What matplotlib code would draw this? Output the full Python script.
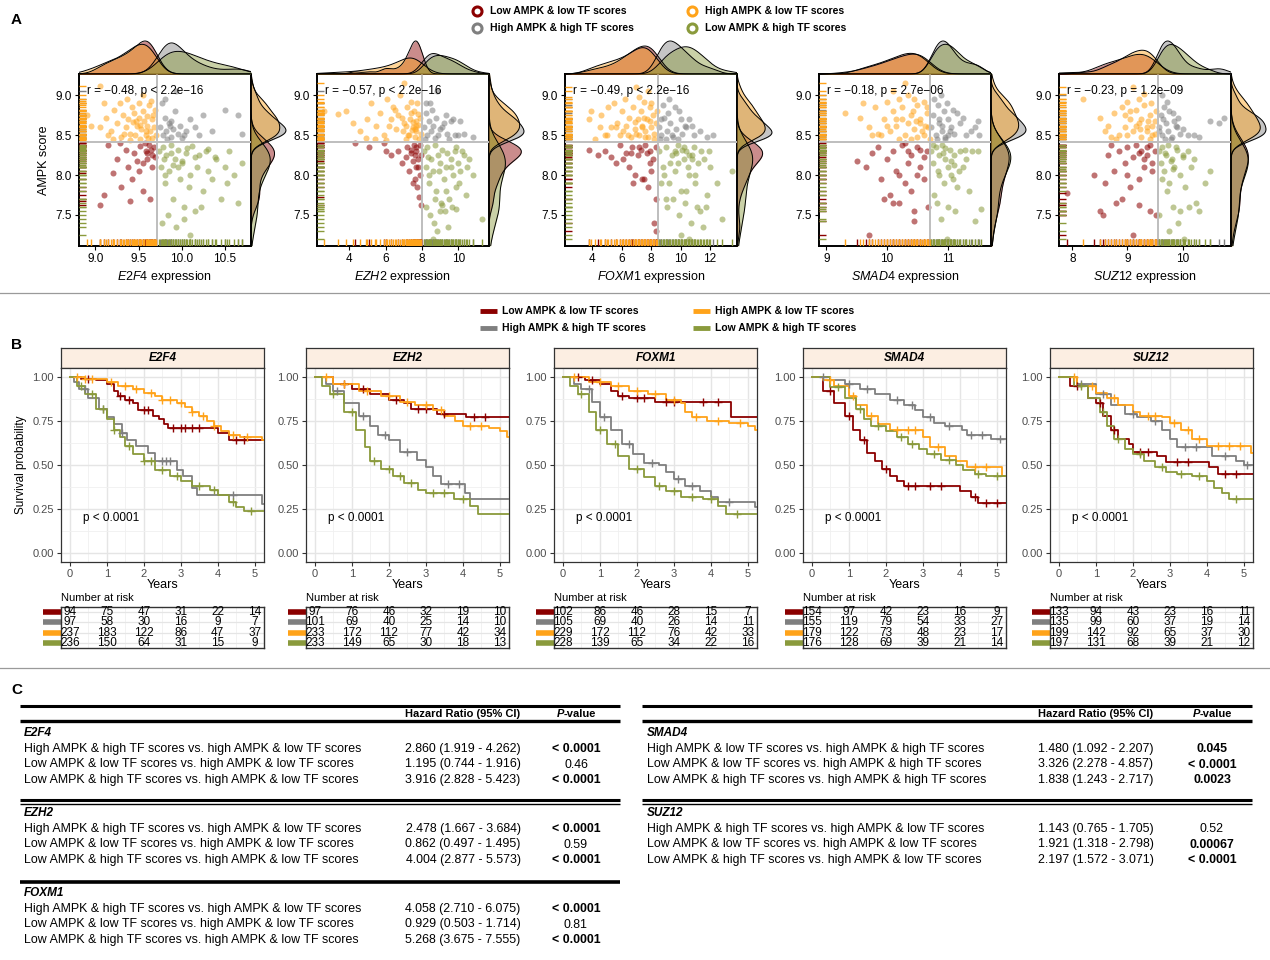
import numpy as np
import matplotlib
matplotlib.use("Agg")
import matplotlib.pyplot as plt
from matplotlib.transforms import blended_transform_factory

plt.rcParams['font.family'] = ['Liberation Sans', 'DejaVu Sans']
plt.rcParams['mathtext.fontset'] = 'custom'
plt.rcParams['mathtext.rm'] = 'Liberation Sans'
plt.rcParams['mathtext.it'] = 'Liberation Sans:italic'
plt.rcParams['mathtext.bf'] = 'Liberation Sans:bold'

# ---------------- data ----------------
genes = ['E2F4', 'EZH2', 'FOXM1', 'SMAD4', 'SUZ12']
groups = ['LL', 'HH', 'HL', 'LH']
group_labels = {'LL': 'Low AMPK & low TF scores', 'HH': 'High AMPK & high TF scores',
                'HL': 'High AMPK & low TF scores', 'LH': 'Low AMPK & high TF scores'}
colors = {'LL': '#8B0000', 'HH': '#7F7F7F', 'HL': '#FFA31A', 'LH': '#8A9A3C'}

ampk_cut = 8.42
tf_cut = [9.716, 8.03, 8.45, 10.71, 9.547]
corr_text = ['r = \u22120.48, p < 2.2e\u221216', 'r = \u22120.57, p < 2.2e\u221216',
             'r = \u22120.49, p < 2.2e\u221216', 'r = \u22120.18, p = 2.7e\u221206',
             'r = \u22120.23, p = 1.2e\u221209']
sc_xlims = [(8.81, 10.80), (2.23, 11.69), (2.15, 13.83), (8.88, 11.71), (7.76, 10.875)]
sc_ylim = (7.11, 9.267)
sc_xticks = [[9.0, 9.5, 10.0, 10.5], [4, 6, 8, 10], [4, 6, 8, 10, 12], [9, 10, 11], [8, 9, 10]]
sc_xticklabels = [['9.0', '9.5', '10.0', '10.5'], ['4', '6', '8', '10'], ['4', '6', '8', '10', '12'],
                  ['9', '10', '11'], ['8', '9', '10']]
sc_yticks = [7.5, 8.0, 8.5, 9.0]

# scatter points (TF expression, AMPK score) per gene and group
sc_e2f4_ll = [(9.68,8.35),(9.65,8.25),(9.62,8.38),(9.6,8.2),(9.58,8.3),(9.55,8.15),(9.52,8.36),(9.5,8.05),(9.45,8.28),(9.42,7.95),(9.38,8.1),(9.35,8.32),(9.3,7.85),(9.25,8.2),(9.2,8.02),(9.15,8.38),(9.1,7.75),(9.05,7.62),(9.66,8.1),(9.57,8.4),(9.48,8.18),(9.63,7.7),(9.4,7.68),(9.28,8.4),(9.55,7.8),(9.6,8.28),(9.69,8.22),(9.64,8.32)]
sc_e2f4_hh = [(9.75,8.6),(9.78,8.5),(9.8,8.72),(9.82,8.55),(9.85,8.65),(9.87,8.48),(9.9,8.58),(9.92,8.8),(9.95,8.52),(9.98,8.62),(10.0,8.46),(10.05,8.55),(10.1,8.7),(9.77,8.9),(9.83,8.45),(9.88,8.68),(9.93,9.05),(10.02,8.5),(10.15,8.6),(10.25,8.75),(10.35,8.55),(10.5,8.82),(10.65,8.75),(9.8,8.95),(10.2,8.5),(10.7,8.52),(9.86,8.62)]
sc_e2f4_hl = [(9.05,8.6),(9.12,8.72),(9.18,8.55),(9.22,8.82),(9.25,8.65),(9.28,8.9),(9.3,8.48),(9.32,8.75),(9.35,8.6),(9.36,8.95),(9.38,8.7),(9.4,8.52),(9.42,8.85),(9.43,8.66),(9.45,8.78),(9.46,8.5),(9.48,8.62),(9.5,8.9),(9.5,8.72),(9.52,8.45),(9.53,8.58),(9.55,8.8),(9.56,8.68),(9.58,8.5),(9.6,8.74),(9.6,8.62),(9.62,8.88),(9.63,8.55),(9.65,8.47),(9.66,8.7),(9.68,8.6),(9.69,8.82),(9.7,8.5),(9.4,8.44),(9.55,9.0),(9.64,8.93),(9.2,8.45),(9.1,8.9),(8.95,8.62),(9.58,8.55),(9.47,8.68),(9.33,8.52),(9.67,8.75),(9.52,8.63),(9.61,8.46),(9.05,9.12),(8.9,8.75),(9.15,8.5)]
sc_e2f4_lh = [(9.74,8.3),(9.76,8.1),(9.78,8.35),(9.8,7.9),(9.82,8.25),(9.85,8.05),(9.88,8.38),(9.9,7.7),(9.92,8.2),(9.95,8.32),(9.98,7.95),(10.0,8.15),(10.03,7.6),(10.05,8.28),(10.08,7.85),(10.1,8.0),(10.12,8.36),(10.15,7.55),(10.18,8.1),(10.2,8.25),(10.25,7.8),(10.28,8.3),(10.3,8.05),(10.35,7.95),(10.4,8.2),(10.45,7.7),(10.5,8.1),(10.55,8.3),(10.6,8.0),(10.65,7.65),(10.7,8.15),(9.77,7.4),(9.84,7.5),(9.93,7.35),(10.02,7.45),(10.1,7.25),(10.22,7.6),(9.79,8.2),(9.87,8.28),(9.96,8.1),(10.06,8.34),(10.38,8.22),(10.52,7.9),(9.81,8.0),(10.0,8.18),(10.3,8.33),(9.9,8.12),(10.15,8.22)]

sc_ezh2_ll = [(4.3,8.4),(5.1,8.35),(5.9,8.4),(6.3,8.25),(6.7,8.3),(6.9,8.15),(7.1,8.22),(7.2,8.35),(7.3,8.05),(7.4,8.28),(7.5,8.18),(7.55,8.38),(7.6,7.95),(7.65,8.1),(7.7,8.3),(7.75,7.85),(7.8,8.2),(7.85,7.72),(7.9,8.0),(7.95,7.62),(7.7,8.35),(7.8,8.1),(7.5,7.9),(7.4,8.32),(7.9,8.38),(6.0,8.3),(7.95,8.25),(7.6,8.25)]
sc_ezh2_hh = [(8.1,8.6),(8.2,8.78),(8.3,8.5),(8.4,8.68),(8.5,8.55),(8.6,8.62),(8.7,8.47),(8.8,8.72),(8.9,8.5),(9.0,8.58),(9.2,8.65),(9.4,8.52),(9.6,8.68),(9.8,8.5),(10.0,8.5),(10.3,8.52),(10.8,8.48),(8.25,8.9),(8.55,8.82),(8.85,9.05),(9.1,8.6),(9.5,8.45),(8.15,8.45),(8.45,8.9),(9.3,8.75),(9.7,8.7),(10.1,8.68)]
sc_ezh2_hl = [(2.6,8.8),(3.4,8.77),(3.8,8.8),(4.2,8.65),(4.6,8.55),(5.0,8.7),(5.2,8.9),(5.5,8.62),(5.7,8.78),(5.9,8.5),(6.1,8.95),(6.3,8.7),(6.5,8.82),(6.6,8.58),(6.8,9.0),(6.9,8.72),(7.0,9.15),(7.1,8.62),(7.2,8.85),(7.3,8.5),(7.35,8.7),(7.4,8.92),(7.5,8.6),(7.55,8.8),(7.6,8.48),(7.65,8.68),(7.7,8.55),(7.75,8.9),(7.8,8.63),(7.85,8.45),(7.9,8.72),(7.95,8.52),(6.2,8.62),(6.7,8.75),(7.15,8.45),(7.45,8.56),(5.4,8.45),(6.0,8.44),(4.9,8.47),(7.0,8.65),(7.6,8.58),(7.25,8.5),(6.4,8.85),(7.8,8.77),(7.5,8.66),(6.95,8.55),(7.7,8.62),(7.4,8.78)]
sc_ezh2_lh = [(8.1,8.3),(8.2,8.1),(8.3,8.35),(8.4,7.9),(8.5,8.2),(8.6,8.05),(8.7,8.38),(8.8,7.8),(8.9,8.25),(9.0,8.15),(9.1,8.32),(9.2,7.95),(9.3,8.1),(9.4,8.28),(9.5,7.7),(9.6,8.2),(9.7,8.0),(9.8,8.3),(9.9,7.85),(10.0,8.15),(10.1,8.05),(10.2,8.3),(10.4,7.75),(10.6,8.2),(10.8,8.0),(11.3,7.45),(8.25,7.6),(8.45,7.5),(8.65,7.4),(8.85,7.3),(9.05,7.65),(9.25,7.55),(9.45,7.35),(9.65,7.6),(9.85,8.35),(10.05,7.9),(8.4,8.0),(8.7,7.7),(9.0,7.55),(9.3,7.8),(9.6,8.1),(10.3,8.25),(8.6,7.2),(9.1,7.62),(9.9,7.58),(10.5,8.1),(8.35,8.22),(8.95,8.05)]

sc_foxm1_ll = [(3.8,8.32),(4.4,8.25),(4.9,8.3),(5.3,8.22),(5.6,8.15),(5.9,8.38),(6.1,8.2),(6.3,8.28),(6.5,8.1),(6.7,8.35),(6.9,8.0),(7.1,8.25),(7.3,8.32),(7.5,7.95),(7.7,8.28),(7.9,8.15),(8.1,8.2),(8.3,8.35),(6.8,7.9),(7.4,7.95),(7.8,7.85),(8.2,7.4),(7.6,8.38),(8.0,8.05),(8.3,7.7),(8.35,7.3),(7.2,8.35),(6.6,8.28),(7.95,8.3)]
sc_foxm1_hh = [(8.5,8.6),(8.7,8.5),(8.9,8.72),(9.1,8.55),(9.3,8.65),(9.5,8.48),(9.7,8.58),(9.9,8.8),(10.1,8.52),(10.3,8.62),(10.6,8.7),(10.9,8.5),(11.3,8.55),(11.8,8.48),(12.2,8.5),(8.8,8.88),(9.2,8.95),(9.6,8.85),(10.0,8.7),(10.4,8.6),(8.6,8.45),(9.0,8.45),(9.4,8.5),(10.8,8.62),(9.8,8.45),(9.15,8.78),(8.65,8.7)]
sc_foxm1_hl = [(3.8,8.7),(4.2,8.45),(4.6,8.75),(4.9,8.5),(5.1,8.85),(5.3,8.6),(5.5,8.9),(5.7,8.65),(5.9,8.5),(6.0,8.8),(6.2,8.95),(6.3,8.62),(6.5,8.72),(6.6,8.48),(6.8,8.85),(6.9,8.58),(7.0,9.1),(7.1,8.7),(7.2,8.5),(7.3,8.8),(7.4,8.62),(7.5,8.92),(7.6,8.55),(7.7,8.7),(7.8,8.48),(7.9,8.85),(8.0,8.6),(8.1,8.75),(8.2,8.52),(8.3,8.65),(8.4,8.8),(6.4,8.5),(7.2,8.98),(7.8,9.05),(5.6,8.6),(6.9,8.66),(7.5,8.72),(8.2,8.45),(4.5,8.6),(6.1,8.55),(7.0,8.52),(7.6,8.48),(8.0,8.9),(3.9,8.8),(5.0,8.5),(7.35,8.6),(7.95,8.68)]
sc_foxm1_lh = [(8.55,8.3),(8.8,8.1),(9.0,8.35),(9.2,7.9),(9.4,8.25),(9.6,8.05),(9.8,8.38),(10.0,7.8),(10.2,8.2),(10.4,8.3),(10.6,8.0),(10.8,8.25),(11.0,7.9),(11.2,8.15),(11.4,8.3),(11.6,8.2),(11.8,7.75),(12.0,8.1),(12.5,7.9),(13.5,8.05),(9.1,7.6),(9.5,7.7),(9.9,7.5),(10.3,7.65),(10.7,7.4),(11.1,7.6),(11.5,7.35),(8.7,7.9),(9.3,8.15),(9.7,8.28),(10.1,8.32),(10.5,8.1),(10.9,8.35),(11.3,7.55),(9.0,7.7),(10.0,7.25),(10.6,7.2),(11.7,7.6),(12.8,7.45),(8.9,8.0),(10.2,8.35),(10.8,8.2),(9.6,8.3),(11.0,8.0),(10.4,7.8),(11.9,8.3),(9.85,8.15),(10.55,8.25)]

sc_smad4_ll = [(9.5,8.18),(9.65,8.1),(9.75,8.28),(9.85,8.35),(9.9,7.95),(10.0,8.2),(10.05,7.75),(10.1,8.3),(10.15,8.05),(10.2,7.65),(10.25,8.38),(10.3,7.9),(10.35,8.15),(10.4,8.25),(10.45,7.55),(10.5,8.35),(10.55,8.1),(10.6,7.95),(10.65,8.3),(10.68,7.6),(10.3,8.4),(10.5,8.0),(10.1,7.65),(10.4,7.8),(10.6,8.22),(9.95,7.7),(10.2,8.0),(10.45,7.42),(10.55,8.32),(10.35,8.3),(9.7,7.25)]
sc_smad4_hh = [(10.73,8.6),(10.76,8.75),(10.8,8.5),(10.83,8.88),(10.86,8.65),(10.9,8.55),(10.93,8.8),(10.96,8.48),(11.0,8.7),(11.05,8.6),(11.1,8.52),(11.15,8.78),(11.2,8.65),(11.3,8.5),(11.45,8.6),(11.5,8.68),(10.78,8.95),(10.88,9.0),(10.98,8.9),(11.08,8.82),(10.82,8.45),(10.95,8.45),(11.03,8.55),(11.25,8.72),(11.38,8.55),(11.52,8.5),(10.85,8.7),(10.91,8.62),(11.0,8.5)]
sc_smad4_hl = [(9.3,8.78),(9.55,8.72),(9.7,8.6),(9.8,8.85),(9.9,8.5),(9.95,8.7),(10.0,8.92),(10.05,8.55),(10.1,8.8),(10.15,8.62),(10.2,8.95),(10.25,8.7),(10.3,8.5),(10.35,9.0),(10.4,8.75),(10.45,8.58),(10.5,8.88),(10.55,8.65),(10.6,8.5),(10.65,8.78),(10.68,8.6),(10.1,9.05),(10.3,9.15),(10.45,8.95),(10.6,8.92),(9.85,8.52),(10.2,8.45),(10.4,8.45),(10.55,8.7),(10.65,8.85),(10.0,8.62),(10.25,8.85),(10.5,8.48),(9.6,8.9),(10.35,8.65),(10.15,8.7),(10.58,8.55),(10.7,8.45),(10.42,8.8),(9.75,8.5),(10.48,8.68),(10.62,8.62)]
sc_smad4_lh = [(10.73,8.3),(10.76,8.15),(10.8,8.35),(10.83,8.05),(10.86,8.25),(10.9,8.38),(10.93,7.9),(10.96,8.2),(11.0,8.1),(11.03,8.32),(11.06,8.0),(11.1,8.25),(11.15,7.85),(11.2,8.3),(11.25,8.1),(11.3,8.2),(11.4,8.3),(11.5,8.3),(11.55,7.58),(10.78,7.75),(10.88,7.45),(10.98,7.2),(11.08,7.95),(10.85,8.0),(11.0,7.6),(11.12,7.55),(11.35,7.8),(11.45,7.42),(10.75,8.38),(10.92,8.28),(11.05,8.18),(11.18,8.05),(10.82,7.65),(11.28,8.32),(10.95,8.34),(11.1,8.12)]

sc_suz12_ll = [(7.9,7.78),(8.4,8.0),(8.6,7.9),(8.65,8.25),(8.75,8.05),(8.85,8.3),(8.9,7.7),(8.95,8.15),(9.0,8.35),(9.05,7.85),(9.1,8.22),(9.15,8.38),(9.2,7.95),(9.25,8.3),(9.3,8.1),(9.35,8.25),(9.4,8.38),(9.45,8.05),(9.5,8.3),(9.52,7.5),(8.5,7.55),(8.8,7.65),(9.0,8.0),(9.2,7.62),(9.4,7.55),(8.7,8.38),(9.1,7.25),(9.3,8.2),(9.45,8.15),(8.55,7.5),(9.35,8.35),(9.2,8.28)]
sc_suz12_hh = [(9.57,8.6),(9.6,8.75),(9.63,8.5),(9.66,8.85),(9.7,8.65),(9.73,8.55),(9.76,8.8),(9.8,8.48),(9.85,8.68),(9.9,8.6),(9.95,8.52),(10.0,8.58),(10.1,8.5),(10.3,8.48),(10.5,8.68),(10.65,8.65),(9.62,9.0),(9.72,8.92),(9.82,8.78),(9.92,8.72),(9.68,8.45),(9.78,8.45),(10.2,8.5),(10.75,8.72),(9.58,8.55),(9.87,8.62),(9.65,8.7)]
sc_suz12_hl = [(8.2,8.95),(8.5,8.72),(8.65,8.62),(8.75,8.78),(8.85,8.5),(8.9,8.85),(8.95,8.6),(9.0,8.92),(9.05,8.7),(9.1,8.55),(9.15,8.82),(9.2,8.65),(9.25,8.48),(9.3,8.88),(9.35,8.6),(9.4,8.75),(9.45,8.5),(9.5,8.68),(9.52,8.8),(8.8,8.45),(9.0,8.5),(9.2,8.95),(9.4,8.45),(9.1,9.1),(9.3,9.02),(9.45,8.62),(8.7,8.48),(8.95,8.75),(9.25,8.7),(9.5,8.52),(9.05,8.8),(9.35,8.55),(8.6,8.55),(9.15,8.62),(9.42,8.9),(9.22,8.58),(9.38,8.68)]
sc_suz12_lh = [(9.57,8.3),(9.6,8.15),(9.63,8.35),(9.66,8.05),(9.7,8.25),(9.73,8.38),(9.76,7.9),(9.8,8.2),(9.85,8.1),(9.9,8.32),(9.95,8.0),(10.0,8.25),(10.05,7.85),(10.1,8.3),(10.15,8.1),(10.2,8.2),(10.3,7.55),(10.4,7.9),(10.5,8.05),(9.62,7.95),(9.72,7.8),(9.82,7.6),(9.92,7.4),(10.02,7.2),(9.68,8.28),(9.78,8.18),(9.88,8.35),(10.25,7.65),(9.58,7.5),(9.95,7.55),(10.12,7.6),(9.75,7.3),(10.0,8.22),(9.83,8.08)]

# Kaplan-Meier step points (years, survival) and censoring times
km_e2f4_ll = [(0,1),(0.3,0.99),(0.7,0.98),(1.0,0.96),(1.2,0.92),(1.3,0.89),(1.5,0.87),(1.7,0.85),(1.85,0.81),(2.25,0.78),(2.4,0.76),(2.55,0.73),(2.65,0.71),(4.0,0.68),(4.3,0.64),(5.25,0.64)]
km_e2f4_hh = [(0,1),(0.1,0.97),(0.25,0.93),(0.5,0.88),(0.8,0.82),(1.0,0.77),(1.2,0.73),(1.4,0.68),(1.55,0.64),(1.8,0.61),(2.1,0.57),(2.3,0.52),(2.9,0.47),(3.05,0.44),(3.3,0.37),(3.45,0.33),(5.2,0.28),(5.25,0.28)]
km_e2f4_hl = [(0,1),(0.4,0.99),(1.0,0.97),(1.3,0.95),(1.7,0.93),(2.0,0.91),(2.3,0.89),(2.5,0.87),(2.9,0.85),(3.1,0.83),(3.3,0.80),(3.5,0.78),(3.7,0.75),(3.9,0.72),(4.1,0.69),(4.3,0.67),(4.6,0.66),(5.2,0.64),(5.25,0.64)]
km_e2f4_lh = [(0,1),(0.2,0.95),(0.4,0.90),(0.7,0.82),(1.0,0.76),(1.2,0.70),(1.35,0.66),(1.5,0.61),(1.7,0.56),(2.0,0.52),(2.3,0.47),(2.7,0.44),(3.0,0.41),(3.3,0.38),(3.8,0.36),(4.0,0.33),(4.3,0.29),(4.5,0.26),(4.7,0.24),(5.25,0.24)]
km_ezh2_ll = [(0,1),(0.5,0.96),(1.0,0.93),(1.5,0.90),(2.0,0.87),(2.4,0.85),(2.6,0.815),(3.3,0.79),(4.1,0.77),(5.25,0.77)]
km_ezh2_hh = [(0,1),(0.3,0.96),(0.5,0.92),(0.8,0.85),(1.2,0.78),(1.5,0.72),(1.7,0.67),(2.0,0.64),(2.3,0.575),(2.75,0.53),(3.0,0.49),(3.2,0.44),(3.4,0.395),(4.05,0.34),(4.2,0.305),(5.25,0.305)]
km_ezh2_hl = [(0,1),(0.5,0.96),(1.2,0.92),(1.8,0.89),(2.3,0.86),(2.7,0.84),(3.2,0.81),(3.5,0.78),(3.8,0.75),(4.0,0.72),(4.7,0.71),(5.0,0.69),(5.2,0.66),(5.25,0.66)]
km_ezh2_lh = [(0,1),(0.2,0.95),(0.4,0.90),(0.8,0.80),(1.1,0.70),(1.35,0.60),(1.5,0.52),(1.8,0.48),(2.1,0.44),(2.4,0.40),(2.8,0.36),(3.0,0.34),(3.75,0.31),(4.2,0.27),(4.4,0.225),(5.25,0.225)]
km_foxm1_ll = [(0,1),(0.6,0.98),(1.0,0.96),(1.3,0.92),(1.5,0.89),(1.8,0.88),(2.5,0.855),(4.55,0.775),(5.25,0.775)]
km_foxm1_hh = [(0,1),(0.3,0.96),(0.5,0.93),(0.8,0.86),(1.0,0.77),(1.3,0.70),(1.6,0.62),(1.9,0.56),(2.2,0.51),(2.6,0.50),(2.8,0.46),(3.0,0.42),(3.3,0.38),(3.7,0.35),(4.0,0.32),(4.2,0.29),(5.2,0.26),(5.25,0.26)]
km_foxm1_hl = [(0,1),(0.7,0.97),(1.3,0.95),(1.8,0.92),(2.3,0.90),(2.8,0.87),(3.2,0.85),(3.3,0.80),(3.5,0.77),(3.9,0.75),(4.5,0.74),(5.0,0.72),(5.2,0.70),(5.25,0.70)]
km_foxm1_lh = [(0,1),(0.2,0.95),(0.4,0.90),(0.7,0.80),(0.9,0.70),(1.2,0.62),(1.5,0.55),(1.8,0.48),(2.2,0.43),(2.5,0.38),(2.8,0.35),(3.2,0.32),(3.8,0.31),(4.2,0.27),(4.4,0.225),(5.25,0.225)]
km_smad4_ll = [(0,1),(0.3,0.92),(0.6,0.85),(0.9,0.78),(1.1,0.70),(1.3,0.64),(1.5,0.57),(1.7,0.52),(1.9,0.48),(2.1,0.44),(2.3,0.41),(2.5,0.38),(4.0,0.35),(4.3,0.32),(4.5,0.285),(5.25,0.285)]
km_smad4_hh = [(0,1),(0.5,0.98),(0.9,0.96),(1.3,0.93),(1.7,0.90),(2.1,0.87),(2.5,0.84),(2.8,0.81),(3.0,0.77),(3.3,0.74),(3.6,0.72),(4.05,0.70),(4.2,0.67),(4.85,0.645),(5.25,0.645)]
km_smad4_hl = [(0,1),(0.3,0.98),(0.6,0.95),(1.0,0.89),(1.2,0.84),(1.5,0.78),(1.8,0.73),(2.1,0.70),(3.0,0.66),(3.2,0.60),(3.6,0.55),(3.9,0.52),(4.2,0.49),(5.15,0.44),(5.25,0.44)]
km_smad4_lh = [(0,1),(0.5,0.94),(0.9,0.88),(1.2,0.82),(1.4,0.76),(1.6,0.72),(2.0,0.69),(2.3,0.66),(2.6,0.62),(2.9,0.59),(3.1,0.56),(3.5,0.53),(3.9,0.50),(4.1,0.47),(4.4,0.45),(4.7,0.44),(5.25,0.44)]
km_suz12_ll = [(0,1),(0.3,0.95),(0.8,0.88),(1.0,0.85),(1.2,0.78),(1.4,0.70),(1.6,0.65),(1.9,0.62),(2.0,0.575),(2.65,0.55),(2.9,0.515),(4.05,0.49),(4.3,0.45),(5.25,0.45)]
km_suz12_hh = [(0,1),(0.5,0.96),(1.0,0.90),(1.4,0.84),(1.8,0.79),(2.1,0.77),(2.5,0.75),(2.8,0.70),(3.0,0.65),(3.2,0.60),(4.15,0.55),(4.8,0.52),(5.0,0.50),(5.25,0.50)]
km_suz12_hl = [(0,1),(0.5,0.95),(1.0,0.91),(1.3,0.88),(1.6,0.84),(2.0,0.80),(2.2,0.78),(2.8,0.77),(3.0,0.74),(3.3,0.70),(3.6,0.65),(4.0,0.61),(5.2,0.57),(5.25,0.57)]
km_suz12_lh = [(0,1),(0.4,0.95),(0.8,0.88),(1.1,0.80),(1.3,0.72),(1.5,0.65),(1.8,0.59),(2.0,0.56),(2.3,0.52),(2.6,0.49),(2.9,0.46),(3.2,0.45),(3.6,0.44),(4.0,0.41),(4.2,0.37),(4.4,0.34),(4.6,0.31),(5.25,0.31)]

cens_e2f4_ll = [0.5,1.35,1.6,2.0,2.1,2.8,3.0,3.1,3.3,3.5,4.5,4.7]
cens_e2f4_hh = [0.4,0.9,1.4,2.5,2.6,2.7,4.4]
cens_e2f4_hl = [0.2,0.4,0.6,1.1,1.5,1.8,2.2,2.5,2.7,3.0,3.3,3.6,3.9,4.4,4.8]
cens_e2f4_lh = [0.3,0.6,0.9,1.2,1.6,2.0,2.2,2.5,2.9,3.5,3.9,4.4,4.9]
cens_ezh2_ll = [0.8,1.3,2.2,2.8,3.0,3.5,4.3,4.6]
cens_ezh2_hh = [0.6,1.3,1.9,2.5,3.6,3.9]
cens_ezh2_hl = [0.3,0.8,1.4,2.0,2.5,3.0,3.4,4.2,4.5]
cens_ezh2_lh = [0.5,1.0,1.6,2.0,2.3,2.6,3.2,3.5,4.0]
cens_foxm1_ll = [0.4,0.8,1.6,2.0,2.2,2.8,3.0,3.8,4.2]
cens_foxm1_hh = [0.7,1.1,1.8,2.4,3.1,3.5,4.5]
cens_foxm1_hl = [0.3,1.0,1.5,2.0,2.5,3.0,3.6,4.2,4.8]
cens_foxm1_lh = [0.5,1.0,1.4,2.0,2.6,3.0,3.5,4.0,4.7]
cens_smad4_ll = [0.5,1.0,1.4,2.0,2.6,2.8,3.2,3.5,4.4,4.7,5.0]
cens_smad4_hh = [0.3,1.0,1.5,2.3,2.7,3.2,3.7,4.3,4.6,5.1]
cens_smad4_hl = [0.5,1.1,1.6,2.3,2.6,2.8,3.4,4.4,4.7]
cens_smad4_lh = [0.7,1.3,1.8,2.4,2.7,3.3,3.7,4.5,5.0]
cens_suz12_ll = [0.5,1.1,1.5,2.2,2.4,3.2,3.5,4.5,4.8]
cens_suz12_hh = [0.6,1.2,2.0,2.6,3.4,3.7,4.5,5.1]
cens_suz12_hl = [0.4,0.9,1.5,2.4,2.6,3.1,3.5,3.8,4.3,4.6,4.9]
cens_suz12_lh = [0.6,1.2,1.6,2.2,2.8,3.3,3.8,4.8]

risk_times = [0, 1, 2, 3, 4, 5]
# rows: LL, HH, HL, LH
risk_e2f4 = [[94,75,47,31,22,14],[97,58,30,16,9,7],[237,183,122,86,47,37],[236,150,64,31,15,9]]
risk_ezh2 = [[97,76,46,32,19,10],[101,69,40,25,14,10],[233,172,112,77,42,34],[233,149,65,30,18,13]]
risk_foxm1 = [[102,86,46,28,15,7],[105,69,40,26,14,11],[229,172,112,76,42,33],[228,139,65,34,22,16]]
risk_smad4 = [[154,97,42,23,16,9],[155,119,79,54,33,27],[179,122,73,48,23,17],[176,128,69,39,21,14]]
risk_suz12 = [[133,94,43,23,16,11],[135,99,60,37,19,14],[199,142,92,65,37,30],[197,131,68,39,21,12]]
km_pvalue = ['p < 0.0001'] * 5

# Hazard ratio tables
cmp_vs_hl = ['High AMPK & high TF scores vs. high AMPK & low TF scores',
             'Low AMPK & low TF scores vs. high AMPK & low TF scores',
             'Low AMPK & high TF scores vs. high AMPK & low TF scores']
cmp_vs_hh = ['High AMPK & low TF scores vs. high AMPK & high TF scores',
             'Low AMPK & low TF scores vs. high AMPK & high TF scores',
             'Low AMPK & high TF scores vs. high AMPK & high TF scores']
hr_e2f4 = ['2.860 (1.919 - 4.262)', '1.195 (0.744 - 1.916)', '3.916 (2.828 - 5.423)']
p_e2f4 = ['< 0.0001', '0.46', '< 0.0001']
hr_ezh2 = ['2.478 (1.667 - 3.684)', '0.862 (0.497 - 1.495)', '4.004 (2.877 - 5.573)']
p_ezh2 = ['< 0.0001', '0.59', '< 0.0001']
hr_foxm1 = ['4.058 (2.710 - 6.075)', '0.929 (0.503 - 1.714)', '5.268 (3.675 - 7.555)']
p_foxm1 = ['< 0.0001', '0.81', '< 0.0001']
hr_smad4 = ['1.480 (1.092 - 2.207)', '3.326 (2.278 - 4.857)', '1.838 (1.243 - 2.717)']
p_smad4 = ['0.045', '< 0.0001', '0.0023']
hr_suz12 = ['1.143 (0.765 - 1.705)', '1.921 (1.318 - 2.798)', '2.197 (1.572 - 3.071)']
p_suz12 = ['0.52', '0.00067', '< 0.0001']
p_bold = [[True, False, True], [True, False, True], [True, False, True],
          [True, True, True], [False, True, True]]

scatter = {'E2F4': [sc_e2f4_ll, sc_e2f4_hh, sc_e2f4_hl, sc_e2f4_lh],
           'EZH2': [sc_ezh2_ll, sc_ezh2_hh, sc_ezh2_hl, sc_ezh2_lh],
           'FOXM1': [sc_foxm1_ll, sc_foxm1_hh, sc_foxm1_hl, sc_foxm1_lh],
           'SMAD4': [sc_smad4_ll, sc_smad4_hh, sc_smad4_hl, sc_smad4_lh],
           'SUZ12': [sc_suz12_ll, sc_suz12_hh, sc_suz12_hl, sc_suz12_lh]}
km = {'E2F4': [km_e2f4_ll, km_e2f4_hh, km_e2f4_hl, km_e2f4_lh],
      'EZH2': [km_ezh2_ll, km_ezh2_hh, km_ezh2_hl, km_ezh2_lh],
      'FOXM1': [km_foxm1_ll, km_foxm1_hh, km_foxm1_hl, km_foxm1_lh],
      'SMAD4': [km_smad4_ll, km_smad4_hh, km_smad4_hl, km_smad4_lh],
      'SUZ12': [km_suz12_ll, km_suz12_hh, km_suz12_hl, km_suz12_lh]}
cens = {'E2F4': [cens_e2f4_ll, cens_e2f4_hh, cens_e2f4_hl, cens_e2f4_lh],
        'EZH2': [cens_ezh2_ll, cens_ezh2_hh, cens_ezh2_hl, cens_ezh2_lh],
        'FOXM1': [cens_foxm1_ll, cens_foxm1_hh, cens_foxm1_hl, cens_foxm1_lh],
        'SMAD4': [cens_smad4_ll, cens_smad4_hh, cens_smad4_hl, cens_smad4_lh],
        'SUZ12': [cens_suz12_ll, cens_suz12_hh, cens_suz12_hl, cens_suz12_lh]}
risk = {'E2F4': risk_e2f4, 'EZH2': risk_ezh2, 'FOXM1': risk_foxm1, 'SMAD4': risk_smad4, 'SUZ12': risk_suz12}

# ---------------- figure ----------------
W, H = 1270, 960
fig = plt.figure(figsize=(12.7, 9.6), dpi=100)


def add_ax(l, t, w, h, **kw):
    return fig.add_axes([l / W, 1 - (t + h) / H, w / W, h / H], **kw)


def kde(vals, grid):
    v = np.asarray(vals, float)
    n = len(v)
    sd = v.std(ddof=1)
    iqr = np.subtract(*np.percentile(v, [75, 25]))
    bw = 1.2 * 0.9 * min(sd, iqr / 1.34) * n ** -0.2
    z = (grid[:, None] - v[None, :]) / bw
    return np.exp(-0.5 * z ** 2).sum(1) / (n * bw * np.sqrt(2 * np.pi))


# overlay for labels/legends/tables in pixel coordinates
ov = add_ax(0, 0, W, H)
ov.set_xlim(0, W)
ov.set_ylim(H, 0)
ov.axis('off')
ov.patch.set_visible(False)

ov.text(11, 20, 'A', fontsize=11, fontweight='bold', va='center')
ov.text(11, 345, 'B', fontsize=11, fontweight='bold', va='center')
ov.text(11, 690, 'C', fontsize=11, fontweight='bold', va='center')
ov.plot([0, W], [293, 293], color='#9A9A9A', lw=0.9)
ov.plot([0, W], [668, 668], color='#9A9A9A', lw=0.9)

# legend A
leg_pos = {'LL': (477, 11), 'HH': (477, 28), 'HL': (692, 11), 'LH': (692, 28)}
for g in groups:
    x, y = leg_pos[g]
    ov.plot([x], [y], marker='o', ms=6.5, mfc='white', mec=colors[g], mew=2.2)
    ov.text(x + 13, y, group_labels[g], fontsize=7.5, fontweight='bold', va='center')

# ---------------- panel A ----------------
a_lefts = [79, 317, 565, 819, 1059]
A_TOP, A_SZ = 74, 172
for i, gene in enumerate(genes):
    L = a_lefts[i]
    ax = add_ax(L, A_TOP, A_SZ, A_SZ)
    xl = sc_xlims[i]
    for gi, g in enumerate(groups):
        pts = np.array(scatter[gene][gi])
        ax.scatter(pts[:, 0], pts[:, 1], s=19, color=colors[g], alpha=0.55, lw=0, zorder=2)
    ax.axvline(tf_cut[i], color='#BEBEBE', lw=1.4, zorder=3)
    ax.axhline(ampk_cut, color='#BEBEBE', lw=1.4, zorder=3)
    tx = ax.get_xaxis_transform()
    ty = ax.get_yaxis_transform()
    for gi, g in enumerate(groups):
        pts = np.array(scatter[gene][gi])
        ax.vlines(pts[:, 0], 0, 0.04, transform=tx, color=colors[g], lw=1.0, zorder=4)
        ax.hlines(pts[:, 1], 0, 0.04, transform=ty, color=colors[g], lw=1.0, zorder=4)
    ax.set_xlim(*xl)
    ax.set_ylim(*sc_ylim)
    ax.set_xticks(sc_xticks[i])
    ax.set_xticklabels(sc_xticklabels[i])
    ax.set_yticks(sc_yticks)
    ax.set_yticklabels(['7.5', '8.0', '8.5', '9.0'])
    for s in ax.spines.values():
        s.set_linewidth(1.4)
        s.set_color('black')
    ax.tick_params(labelsize=8.5, length=3, width=0.8, pad=2)
    ax.text(0.045, 0.9, corr_text[i], transform=ax.transAxes, fontsize=8.5, va='center', zorder=5)
    ax.set_xlabel('$\\it{' + gene + '}$ expression', fontsize=9, labelpad=3)
    if i == 0:
        ax.set_ylabel('AMPK score', fontsize=9, labelpad=4)

    # top marginal density
    axt = add_ax(L, 40, A_SZ, A_TOP - 40)
    gx = np.linspace(xl[0], xl[1], 300)
    dens = [kde(np.array(scatter[gene][gi])[:, 0], gx) for gi in range(4)]
    for gi, g in enumerate(groups):
        axt.fill_between(gx, dens[gi], color=colors[g], alpha=0.45, lw=0)
        axt.plot(gx, dens[gi], color='black', lw=0.7)
    axt.set_xlim(*xl)
    axt.set_ylim(0, max(d.max() for d in dens) * 1.03)
    axt.axis('off')

    # right marginal density
    axr = add_ax(L + A_SZ, A_TOP, 36, A_SZ)
    gy = np.linspace(sc_ylim[0], sc_ylim[1], 300)
    dens = [kde(np.array(scatter[gene][gi])[:, 1], gy) for gi in range(4)]
    for gi, g in enumerate(groups):
        axr.fill_betweenx(gy, dens[gi], color=colors[g], alpha=0.45, lw=0)
        axr.plot(dens[gi], gy, color='black', lw=0.7)
    axr.set_ylim(*sc_ylim)
    axr.set_xlim(0, max(d.max() for d in dens) * 1.03)
    axr.axis('off')

# ---------------- panel B ----------------
leg_b = {'LL': (480, 311), 'HH': (480, 328), 'HL': (693, 311), 'LH': (693, 328)}
for g in groups:
    x, y = leg_b[g]
    ov.plot([x, x + 17], [y, y], color=colors[g], lw=3.5, solid_capstyle='butt')
    ov.text(x + 22, y, group_labels[g], fontsize=7.5, fontweight='bold', va='center')

b_lefts = [61, 306, 554, 803, 1050]
B_W = 203
KX = (-0.24, 5.25)


def step_value(curve, t):
    ts = [p[0] for p in curve]
    ss = [p[1] for p in curve]
    return ss[max(0, np.searchsorted(ts, t, side='right') - 1)]


for i, gene in enumerate(genes):
    L = b_lefts[i]
    # strip
    st = add_ax(L, 348, B_W, 20)
    st.set_facecolor('#FCEEE2')
    st.set_xticks([]); st.set_yticks([])
    for s in st.spines.values():
        s.set_color('#333333'); s.set_linewidth(0.9)
    st.text(0.5, 0.5, gene, transform=st.transAxes, ha='center', va='center',
            fontsize=8.5, fontweight='bold', fontstyle='italic')

    ax = add_ax(L, 368, B_W, 194)
    ax.set_xlim(*KX)
    ax.set_ylim(-0.05, 1.05)
    ax.set_xticks(range(6))
    ax.set_xticks(np.arange(0.5, 5.5, 1), minor=True)
    ax.set_yticks([0, 0.25, 0.5, 0.75, 1.0])
    ax.set_yticklabels(['0.00', '0.25', '0.50', '0.75', '1.00'])
    ax.set_yticks([0.125, 0.375, 0.625, 0.875], minor=True)
    ax.grid(which='major', color='#E5E5E5', lw=1.0)
    ax.grid(which='minor', color='#F0F0F0', lw=0.6)
    ax.set_axisbelow(True)
    ax.tick_params(which='minor', length=0)
    ax.tick_params(which='major', length=3, color='#333333', labelcolor='#4D4D4D', labelsize=8, pad=2)
    for s in ax.spines.values():
        s.set_color('#333333'); s.set_linewidth(0.9)
    for gi, g in enumerate(groups):
        cv = km[gene][gi]
        ax.step([p[0] for p in cv], [p[1] for p in cv], where='post', color=colors[g], lw=1.3, zorder=3)
        ct = cens[gene][gi]
        ax.plot(ct, [step_value(cv, t) for t in ct], ls='none', marker='+', ms=5.5, mew=1.0,
                color=colors[g], zorder=4)
    ax.text(0.36, 0.2, km_pvalue[i], fontsize=8.5, va='center')
    ax.set_xlabel('Years', fontsize=9, labelpad=0)
    if i == 0:
        ax.set_ylabel('Survival probability', fontsize=8.5, labelpad=4)

    # risk table
    ov.text(L, 598, 'Number at risk', fontsize=8, va='center')
    rt = add_ax(L, 607, B_W, 41)
    rt.set_xlim(*KX)
    rt.set_ylim(0.5, 4.5)
    rt.set_xticks(range(6))
    rt.set_xticks(np.arange(0.5, 5.5, 1), minor=True)
    rt.set_yticks([1, 2, 3, 4])
    rt.grid(which='major', color='#E5E5E5', lw=0.9)
    rt.grid(which='minor', axis='x', color='#F0F0F0', lw=0.6)
    rt.set_axisbelow(True)
    rt.tick_params(which='both', length=0, labelbottom=False, labelleft=False)
    for s in rt.spines.values():
        s.set_color('#333333'); s.set_linewidth(1.0)
    bt = blended_transform_factory(rt.transAxes, rt.transData)
    for gi, g in enumerate(groups):
        yv = 4 - gi
        rt.plot([-0.09, 0], [yv, yv], transform=bt, color=colors[g], lw=4, clip_on=False,
                solid_capstyle='butt')
        for t, n in zip(risk_times, risk[gene][gi]):
            rt.text(t, yv, str(n), ha='center', va='center', fontsize=8.5, color='black')

# ---------------- panel C ----------------
def table(x0, x1, hr_x, p_x, text_x, sections, seps):
    ov.plot([x0, x1], [706, 706], color='black', lw=2.2, solid_capstyle='butt')
    ov.plot([x0, x1], [721, 721], color='black', lw=2.4, solid_capstyle='butt')
    ov.text(hr_x, 714, 'Hazard Ratio (95% CI)', ha='center', va='center', fontsize=8, fontweight='bold')
    ov.text(p_x - 12, 714, 'P', ha='right', va='center', fontsize=8, fontweight='bold', fontstyle='italic')
    ov.text(p_x - 12, 714, '-value', ha='left', va='center', fontsize=8, fontweight='bold')
    for (gene, y0, cmps, hrs, ps, bold) in sections:
        ov.text(text_x, y0, gene, va='center', fontsize=8.5, fontweight='bold', fontstyle='italic')
        for k, dy in enumerate([16, 31.5, 47]):
            ov.text(text_x, y0 + dy, cmps[k], va='center', fontsize=8.9)
            ov.text(hr_x, y0 + dy, hrs[k], va='center', ha='center', fontsize=8.9)
            ov.text(p_x, y0 + dy, ps[k], va='center', ha='center', fontsize=8.9,
                    fontweight='bold' if bold[k] else 'normal')
    for (y, lw) in seps:
        ov.plot([x0, x1], [y, y], color='black', lw=lw, solid_capstyle='butt')


table(20, 620, 463, 576, 24,
      [('E2F4', 733, cmp_vs_hl, hr_e2f4, p_e2f4, p_bold[0]),
       ('EZH2', 813, cmp_vs_hl, hr_ezh2, p_ezh2, p_bold[1]),
       ('FOXM1', 893, cmp_vs_hl, hr_foxm1, p_foxm1, p_bold[2])],
      [(800, 2.2), (804, 1.0), (882, 2.6)])
table(642, 1252, 1096, 1212, 647,
      [('SMAD4', 733, cmp_vs_hh, hr_smad4, p_smad4, p_bold[3]),
       ('SUZ12', 813, cmp_vs_hl, hr_suz12, p_suz12, p_bold[4])],
      [(800, 2.2), (804, 1.0)])

fig.savefig('out.png', dpi=100)
